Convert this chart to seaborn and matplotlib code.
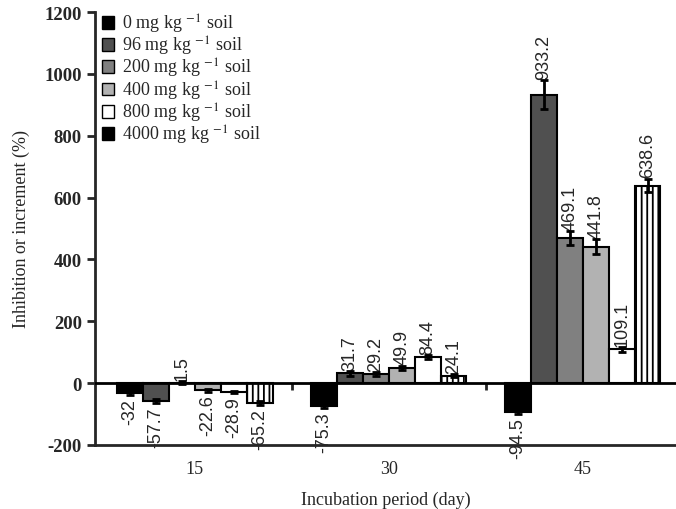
import pandas as pd
import matplotlib.pyplot as plt
import seaborn as sns
import numpy as np
from matplotlib.patches import Patch

# Data
days = ["15", "30", "45"]
doses = ["0", "96", "200", "400", "800", "4000"]
values_15 = [-32, -57.7, 1.5, -22.6, -28.9, -65.2]
values_30 = [-75.3, 31.7, 29.2, 49.9, 84.4, 24.1]
values_45 = [-94.5, 933.2, 469.1, 441.8, 109.1, 638.6]
errors_15 = [6, 8, 4, 5, 4, 6]
errors_30 = [6, 7, 6, 6, 5, 5]
errors_45 = [6, 47, 23, 24, 8, 22]

dose_labels = [f"{d} mg kg $^{{-1}}$ soil" for d in doses]
bar_colors = ["#000000", "#505050", "#808080", "#b2b2b2", "#ffffff", "#ffffff"]
legend_colors = ["#000000", "#505050", "#808080", "#b2b2b2", "#ffffff", "#000000"]

rows = []
for day, vals, errs in zip(days, [values_15, values_30, values_45],
                           [errors_15, errors_30, errors_45]):
    for lab, v, e in zip(dose_labels, vals, errs):
        rows.append({"day": day, "dose": lab, "value": v, "err": e})
df = pd.DataFrame(rows)

sns.set_style("ticks")
plt.rcParams["font.family"] = ["Liberation Serif", "DejaVu Serif"]
plt.rcParams["mathtext.fontset"] = "stix"
plt.rcParams["hatch.linewidth"] = 1.3
plt.rcParams["axes.unicode_minus"] = False

fig = plt.figure(figsize=(6.76, 5.10), dpi=100)
ax = fig.add_axes([95 / 676, 64 / 510, 581 / 676, 433 / 510])

sns.barplot(data=df, x="day", y="value", hue="dose", hue_order=dose_labels,
            palette=bar_colors, edgecolor="black", linewidth=1.5,
            errorbar=None, legend=False, ax=ax)

label_font = ["Liberation Sans Narrow", "Liberation Sans"]

# error bars and value labels
for cont, lab in zip(ax.containers, dose_labels):
    sub = df[df["dose"] == lab]
    for patch, v, e in zip(cont.patches, sub["value"], sub["err"]):
        xc = patch.get_x() + patch.get_width() / 2
        if lab.startswith("4000"):
            patch.set_hatch("|||")
        ax.errorbar(xc, v, yerr=e, fmt="none", ecolor="black",
                    elinewidth=2, capsize=3, capthick=2, zorder=5)
        if v >= 0:
            ax.annotate(f"{v:g}", (xc, v + e), xytext=(0, 1),
                        textcoords="offset points", rotation=90,
                        ha="center", va="bottom", fontsize=13,
                        family=label_font)
        else:
            ax.annotate(f"{v:g}", (xc, v - e), xytext=(0, -2),
                        textcoords="offset points", rotation=90,
                        ha="center", va="top", fontsize=13,
                        family=label_font)

ax.axhline(0, color="black", lw=2, zorder=4)
ax.set_ylim(-200, 1200)
ax.set_yticks(np.arange(-200, 1201, 200))
ax.set_xlim(-0.515, 2.48)

# category separators on the zero line
sec = ax.secondary_xaxis(200 / 1400)
sec.set_xticks([0.5, 1.5])
sec.set_xticklabels([])
sec.tick_params(axis="x", direction="out", length=5, width=2)
sec.spines["bottom"].set_visible(False)

ax.tick_params(axis="x", length=0, pad=11, labelsize=13)
ax.tick_params(axis="y", direction="out", length=6, width=2, labelsize=13.5)
for t in ax.get_yticklabels():
    t.set_fontweight("bold")

for s in ["top", "right"]:
    ax.spines[s].set_visible(False)
for s in ["left", "bottom"]:
    ax.spines[s].set_linewidth(2)

ax.set_xlabel("Incubation period (day)", fontsize=13, labelpad=10)
ax.set_ylabel("Inhibition or increment (%)", fontsize=13, labelpad=10)

handles = [Patch(facecolor=c, edgecolor="black", linewidth=1) for c in legend_colors]
ax.legend(handles, dose_labels, loc="upper left", bbox_to_anchor=(-0.01, 1.03),
          frameon=False, fontsize=13, handlelength=0.7, handleheight=0.7,
          handletextpad=0.4, labelspacing=-0.05, borderaxespad=0.3)

fig.savefig("out.png", dpi=100)
